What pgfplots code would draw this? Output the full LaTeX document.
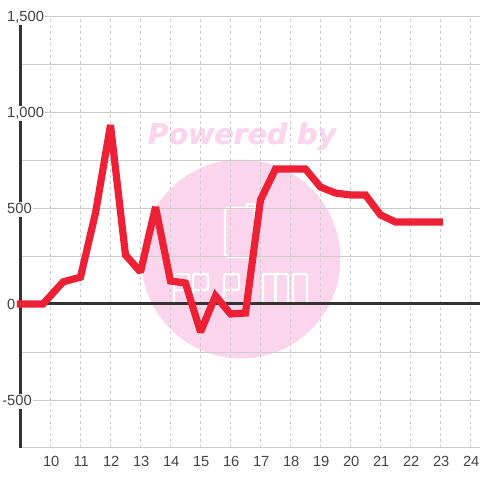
\documentclass[border=0pt]{standalone}
\usepackage{pgfplots}
\pgfplotsset{compat=1.18}
\usepackage{fontspec}
\setmainfont{Liberation Sans}
\newfontfamily\wm{DejaVu Sans}
\definecolor{wmc}{HTML}{FBD5EC}
\definecolor{gridc}{HTML}{CCCCCC}
\definecolor{axc}{HTML}{333333}
\definecolor{redc}{HTML}{EE2036}
\definecolor{txt}{HTML}{444444}
\begin{document}
\begin{tikzpicture}[x=1pt,y=1pt]
\path[use as bounding box] (0,0) rectangle (480,480);
% watermark
\fill[wmc] (241,221) circle (99.5);
\node[text=wmc,font=\wm\bfseries\itshape\fontsize{28.4}{28}\selectfont,anchor=center] at (241.7,343.5) {Powered by};
\node[text=wmc,font=\wm\bfseries\itshape\fontsize{28.4}{28}\selectfont,anchor=center] at (242.3,343.5) {Powered by};
\begin{scope}[white,line width=2.3pt,line join=round]
\draw[rounded corners=3pt] (255,272) -- (225,272) -- (225,223) -- (255,223) -- cycle;
\draw[rounded corners=1pt] (247,272) -- (247,276) -- (255,276) -- (255,270);
% A
\draw[rounded corners=2pt] (174,176) -- (174,206) -- (189,206) -- (189,176);
\draw (174,190) -- (189,190);
% P
\draw[rounded corners=2pt] (193,176) -- (193,206) -- (208,206) -- (208,190) -- (193,190);
% P
\draw[rounded corners=2pt] (224,176) -- (224,206) -- (239,206) -- (239,190) -- (224,190);
% M
\draw[rounded corners=2pt] (263,176) -- (263,206) -- (288,206) -- (288,176);
\draw (275.5,176) -- (275.5,206);
% O
\draw[rounded corners=2pt] (293,176) -- (293,206) -- (307,206) -- (307,176) -- cycle;
\end{scope}
\begin{axis}[
  at={(20.5pt,32pt)},anchor=south west,
  scale only axis,width=459.5pt,height=432pt,
  xmin=9,xmax=24.3167,ymin=-750,ymax=1500,
  axis y line=left,axis x line=bottom,
  y axis line style={-,line width=3pt,color=axc},
  x axis line style={-,line width=1pt,color=gridc},
  clip=false,
  /pgf/number format/assume math mode=true,
  xtick={10,...,24},
  ytick={-500,0,500,1000,1500},
  yticklabels={\llap{-}500,0,500,{1,000},{1,500}},
  minor ytick={-250,250,750,1250},
  tick style={draw=none},
  major tick length=0pt,minor tick length=0pt,
  xmajorgrids,ymajorgrids,yminorgrids,
  x grid style={gridc,line width=0.8pt,dash pattern=on 3pt off 3pt},
  y grid style={gridc,line width=0.9pt},
  xticklabel style={font=\fontsize{14.7}{15}\selectfont,text=txt,yshift=-5pt,xshift=0.7pt},
  yticklabel style={font=\fontsize{14.7}{15}\selectfont,text=txt,anchor=west,xshift=-14.5pt,yshift=-1.5pt,fill=white,inner sep=1pt,text height=10.5pt,text depth=3pt},
]
\addplot[draw=axc,line width=3pt,forget plot] coordinates {(9,0)(24.3167,0)};
\addplot[draw=redc,line width=7.2pt,line cap=rect,miter limit=2] coordinates {
(9,0)(9.75,0)(10.42,115)(11,140)(11.5,474)(12,932)(12.5,255)(13,167)(13.5,505)(14,120)(14.5,109)(15,-146)(15.5,42)(16,-52)(16.5,-47)(17,542)(17.5,703)(18,703)(18.5,703)(19,609)(19.5,578)(20,568)(20.5,568)(21,464)(21.5,427)(22,427)(22.5,427)(22.96,427)};
\end{axis}
\end{tikzpicture}
\end{document}
